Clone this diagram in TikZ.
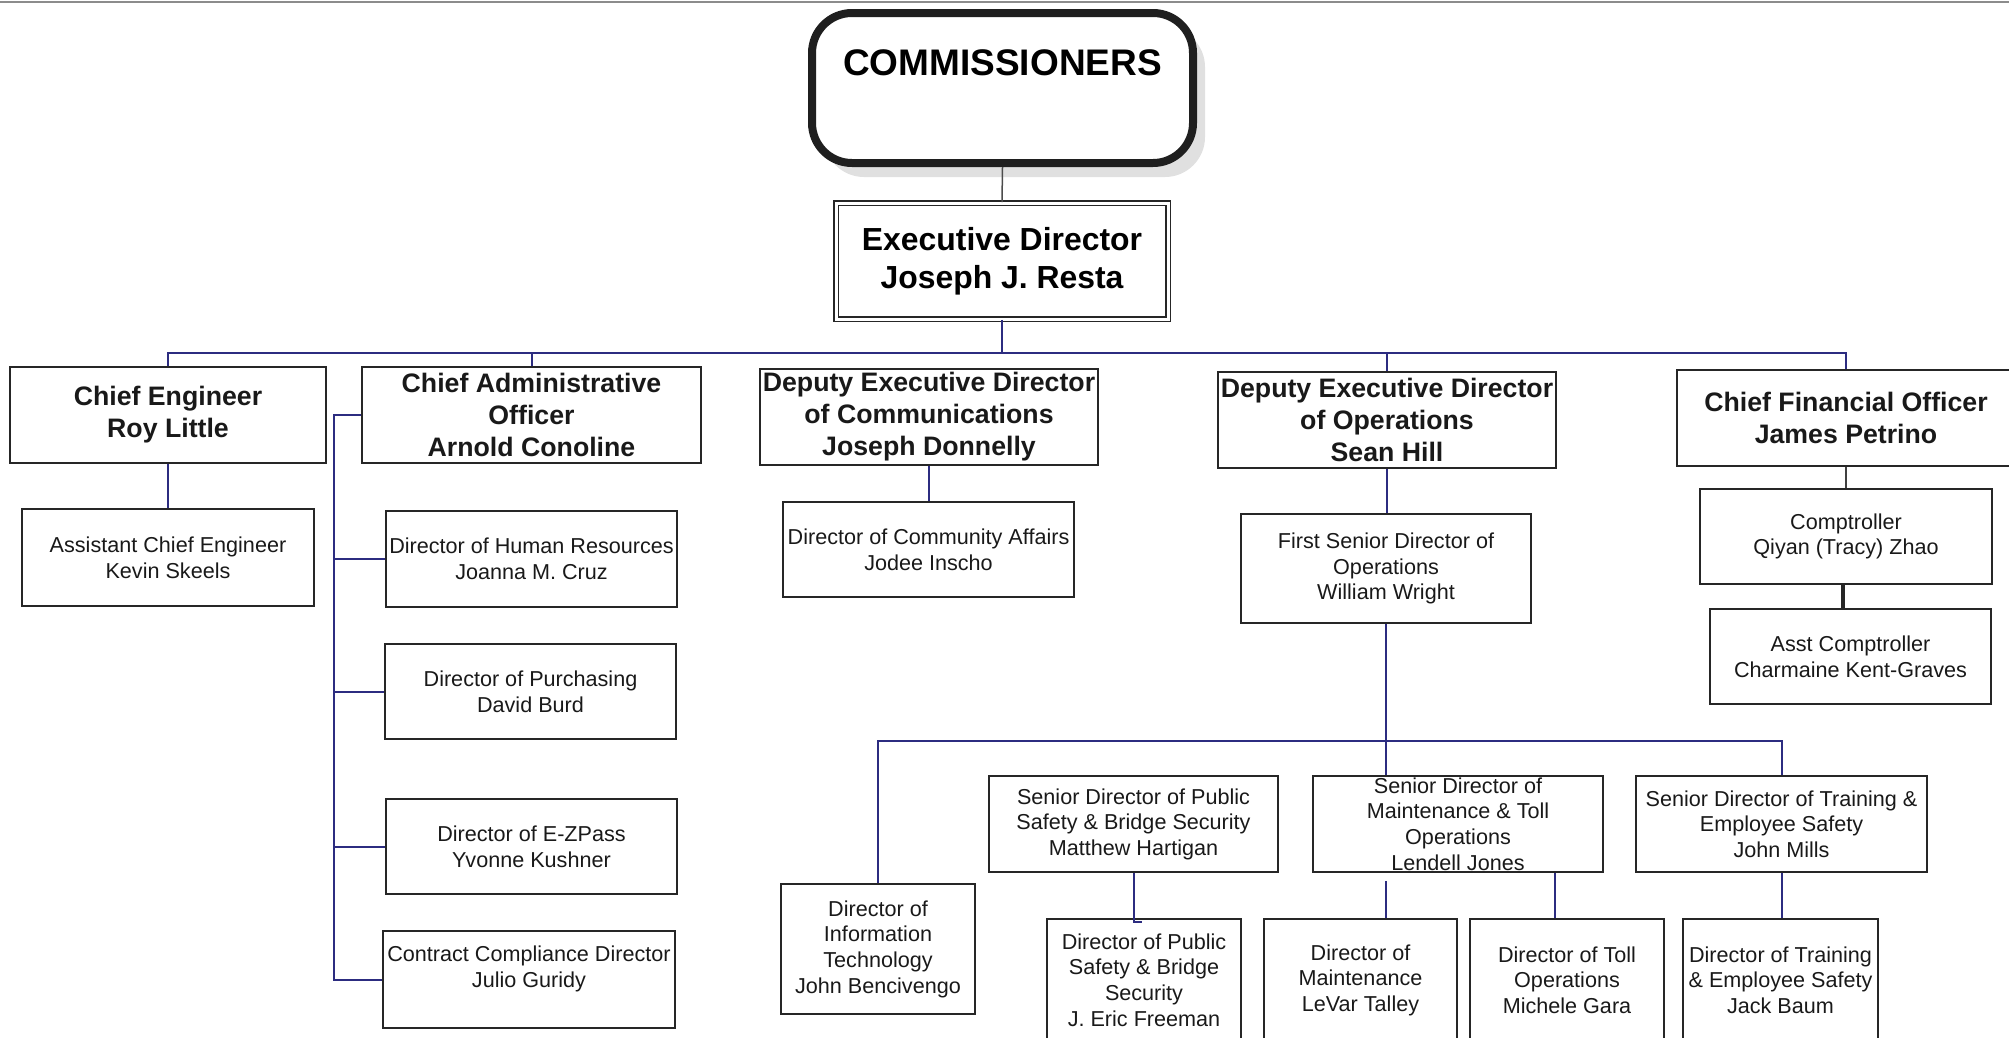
\documentclass[tikz,border=0pt]{standalone}
\usepackage{fontspec}
\setmainfont{Liberation Sans}
\usetikzlibrary{shadows}
\definecolor{linkblue}{RGB}{44,44,128}
\begin{document}
\begin{tikzpicture}[x=1pt, y=-1pt,
  office/.style 2 args={draw=black!85, line width=1.8pt, align=center, inner sep=0pt,
    minimum width=#1pt, minimum height=#2pt, text=black!90},
  chief/.style={font=\fontsize{26.7}{32}\selectfont\bfseries},
  staff/.style={font=\fontsize{21.6}{25.6}\selectfont},
  link/.style={draw=linkblue, line width=2pt}]

\useasboundingbox (0,0) rectangle (2009,1037);
\draw[black!45, line width=2pt] (0,2)--(2009,2);

\node[draw=black!88, line width=8pt, rounded corners=40pt, fill=white, align=center,
  minimum width=381pt, minimum height=150pt,
  drop shadow={shadow xshift=12pt, shadow yshift=-14pt, opacity=.22, fill=black!55},
  font=\fontsize{37}{51}\selectfont\bfseries] (board) at (1002.5,88) {COMMISSIONERS\\\mbox{}};
\node[draw=black!85, line width=1.6pt, double, double distance=3pt, align=center,
  minimum width=332pt, minimum height=116pt,
  font=\fontsize{31.9}{38}\selectfont\bfseries] (exec) at (1002,261) {Executive Director\\Joseph J. Resta};

\node[office={316}{96}, chief] (ce) at (168,415) {Chief Engineer\\Roy Little};
\node[office={339}{96}, chief] (cao) at (531.5,415) {Chief Administrative\\Officer\\Arnold Conoline};
\node[office={338}{96}, chief] (dedc) at (929,417) {Deputy Executive Director\\of Communications\\Joseph Donnelly};
\node[office={338}{96}, chief] (dedo) at (1387,420) {Deputy Executive Director\\of Operations\\Sean Hill};
\node[office={338}{96}, chief] (cfo) at (1846,418) {Chief Financial Officer\\James Petrino};

\node[office={292}{97}, staff] (ace) at (168,557.5) {Assistant Chief Engineer\\Kevin Skeels};
\node[office={291}{96}, staff] (hr) at (531.5,559) {Director of Human Resources\\Joanna M. Cruz};
\node[office={291}{95}, staff] (pur) at (530.5,691.5) {Director of Purchasing\\David Burd};
\node[office={291}{95}, staff] (ezp) at (531.5,846.5) {Director of E-ZPass\\Yvonne Kushner};
\node[office={292}{97}, staff] (ccd) at (529,979.5) {Contract Compliance Director\\Julio Guridy\\\mbox{}};
\node[office={291}{95}, staff] (dca) at (928.5,549.5) {Director of Community Affairs\\Jodee Inscho};
\node[office={290}{109}, staff] (fsd) at (1386,568.5) {First Senior Director of\\Operations\\William Wright};
\node[office={292}{95}, staff] (cpt) at (1846,536.5) {Comptroller\\Qiyan (Tracy) Zhao};
\node[office={281}{95}, staff] (acpt) at (1850.5,656.5) {Asst Comptroller\\Charmaine Kent-Graves};

\node[office={194}{130}, staff] (dit) at (878,949) {Director of\\Information\\Technology\\John Bencivengo};
\node[office={289}{96}, staff] (sps) at (1133.5,824) {Senior Director of Public\\Safety \& Bridge Security\\Matthew Hartigan};
\node[office={290}{96}, staff] (smt) at (1458,824) {Senior Director of\\Maintenance \& Toll\\Operations\\Lendell Jones};
\node[office={291}{96}, staff] (str) at (1781.5,824) {Senior Director of Training \&\\Employee Safety\\John Mills};

\node[office={194}{122}, staff] (dps) at (1144,980) {Director of Public\\Safety \& Bridge\\Security\\J. Eric Freeman};
\node[office={193}{122}, staff] (dmt) at (1360.5,980) {Director of\\Maintenance\\LeVar Talley};
\node[office={194}{122}, staff] (dto) at (1567,980) {Director of Toll\\Operations\\Michele Gara};
\node[office={195}{122}, staff] (dtr) at (1780.5,980) {Director of Training\\\& Employee Safety\\Jack Baum};

\coordinate (bus) at (1001,353);
\coordinate (spine) at (334,415);
\coordinate (bus2) at (1386,741);
\coordinate (jog) at ([xshift=-2pt,yshift=-4pt]dps.north);
\coordinate (tollx) at ([xshift=-12pt]dto.north);
\coordinate (cptx) at ([xshift=-3pt]cpt.south);

\draw[black!70, line width=1.5pt] (board.south)--(exec.north);
\draw[link] (exec.south)--(exec.south |- bus);
\draw[link] (ce.north)--(ce.north |- bus)--(cfo.north |- bus)--(cfo.north);
\foreach \n in {cao,dedo}
{
   \draw[link] (\n.north |- bus)--(\n.north);
}
\draw[link] (ce.south)--(ace.north);
\draw[link] (cao.west) -| (spine |- ccd.west)--(ccd.west);
\foreach \n in {hr,pur,ezp}
{
   \draw[link] (spine |- \n.west)--(\n.west);
}
\draw[link] (dedc.south)--(dedc.south |- dca.north);
\draw[link] (dedo.south)--(dedo.south |- fsd.north);
\draw[link] (fsd.south)--(fsd.south |- smt.north);
\draw[link] (dit.north)--(dit.north |- bus2)--(str.north |- bus2)--(str.north);
\draw[link] (sps.south) |- (jog);
\draw[link, shorten <=8pt] (smt.south -| fsd.south)--(fsd.south |- dmt.north);
\draw[link] (tollx |- smt.south)--(tollx);
\draw[link] (str.south)--(str.south |- dtr.north);

\draw[black!75, line width=1.6pt] (cfo.south)--(cpt.north);
\draw[black!85, line width=3.5pt] (cptx)--(cptx |- acpt.north);
\end{tikzpicture}
\end{document}
